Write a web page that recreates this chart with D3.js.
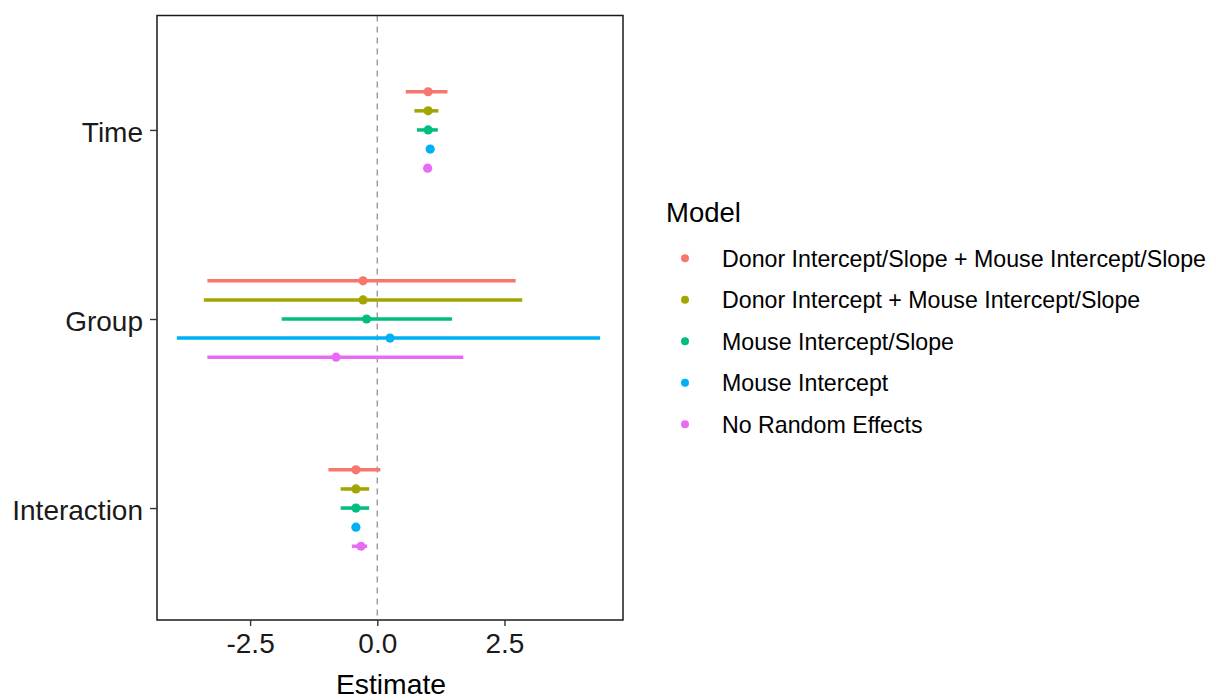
<!DOCTYPE html>
<html>
<head>
<meta charset="utf-8">
<script src="https://cdn.jsdelivr.net/npm/d3@7"></script>
<style>
  html, body { margin: 0; padding: 0; background: #fff; }
  svg { display: block; font-family: "Liberation Sans", Arial, sans-serif; }
</style>
</head>
<body>
<svg id="chart" width="1216" height="700"></svg>
<script>
// Model terms (top to bottom) and the fitted models (dodged within each term)
const terms = ["Time", "Group", "Interaction"];
const models = [
  "Donor Intercept/Slope + Mouse Intercept/Slope",
  "Donor Intercept + Mouse Intercept/Slope",
  "Mouse Intercept/Slope",
  "Mouse Intercept",
  "No Random Effects"
];
const modelColors = ["#F8766D", "#A3A500", "#00BF7D", "#00B0F6", "#E76BF3"];

// Point estimates per model, ordered as in `terms`
const estimate = [
  [1.00, -0.28, -0.42],
  [1.00, -0.28, -0.42],
  [1.00, -0.21, -0.42],
  [1.04,  0.25, -0.42],
  [0.99, -0.81, -0.32]
];
// Lower and upper interval bounds per model
const lower = [
  [0.56, -3.34, -0.96],
  [0.73, -3.41, -0.72],
  [0.78, -1.88, -0.72],
  [1.01, -3.94, -0.44],
  [0.93, -3.34, -0.50]
];
const upper = [
  [1.38, 2.72,  0.06],
  [1.20, 2.85, -0.16],
  [1.19, 1.47, -0.16],
  [1.07, 4.38, -0.40],
  [1.05, 1.69, -0.20]
];
const xTicks = [-2.5, 0, 2.5];
const xTickLabels = ["-2.5", "0.0", "2.5"];

const rows = [];
models.forEach((m, i) => {
  terms.forEach((t, j) => {
    rows.push({ model: m, term: t, est: estimate[i][j], lo: lower[i][j], hi: upper[i][j] });
  });
});

const svg = d3.select("#chart");
const panel = { left: 157, right: 623, top: 15.5, bottom: 620 };

const x = d3.scaleLinear().domain([-4.33, 4.83]).range([panel.left, panel.right]);
const y = d3.scalePoint().domain(terms).range([panel.top + 1, panel.bottom + 1.5]).padding(0.6);
const dodge = d3.scalePoint().domain(models).range([-0.202 * y.step(), 0.202 * y.step()]);
const color = d3.scaleOrdinal().domain(models).range(modelColors);

// Reference line at zero
svg.append("line")
  .attr("x1", x(0)).attr("x2", x(0))
  .attr("y1", panel.top).attr("y2", panel.bottom)
  .attr("stroke", "#9a9a9a").attr("stroke-width", 1.4)
  .attr("stroke-dasharray", "6,5");

// Interval bars and estimates
const g = svg.append("g");
g.selectAll("line.ci").data(rows).join("line")
  .attr("class", "ci")
  .attr("x1", d => x(d.lo)).attr("x2", d => x(d.hi))
  .attr("y1", d => y(d.term) + dodge(d.model))
  .attr("y2", d => y(d.term) + dodge(d.model))
  .attr("stroke", d => color(d.model))
  .attr("stroke-width", 3.5);
g.selectAll("circle.est").data(rows).join("circle")
  .attr("class", "est")
  .attr("cx", d => x(d.est))
  .attr("cy", d => y(d.term) + dodge(d.model))
  .attr("r", 4.6)
  .attr("fill", d => color(d.model));

// Panel border
svg.append("rect")
  .attr("x", panel.left).attr("y", panel.top)
  .attr("width", panel.right - panel.left).attr("height", panel.bottom - panel.top)
  .attr("fill", "none").attr("stroke", "#1a1a1a").attr("stroke-width", 1.5);

// X axis
const xAxis = svg.append("g")
  .attr("transform", `translate(0,${panel.bottom})`)
  .call(d3.axisBottom(x).tickValues(xTicks)
    .tickFormat((d, i) => xTickLabels[i]).tickSize(6).tickPadding(7));
xAxis.select(".domain").remove();
xAxis.selectAll(".tick line").attr("stroke", "#333").attr("stroke-width", 1.4);
xAxis.selectAll(".tick text")
  .attr("font-size", 28).attr("fill", "#1a1a1a")
  .attr("font-family", "Liberation Sans, Arial, sans-serif");

// Y axis
const yAxis = svg.append("g")
  .attr("transform", `translate(${panel.left},0)`)
  .call(d3.axisLeft(y).tickSize(7).tickPadding(7));
yAxis.select(".domain").remove();
yAxis.selectAll(".tick line").attr("stroke", "#333").attr("stroke-width", 1.4);
yAxis.selectAll(".tick text")
  .attr("font-size", 28).attr("fill", "#1a1a1a")
  .attr("dy", "0.42em")
  .attr("font-family", "Liberation Sans, Arial, sans-serif");

// Axis title
svg.append("text")
  .attr("x", (panel.left + panel.right) / 2 + 1).attr("y", 694)
  .attr("text-anchor", "middle")
  .attr("font-size", 28.3).attr("fill", "#000")
  .text("Estimate");

// Legend
const legend = svg.append("g").attr("transform", "translate(666,0)");
legend.append("text")
  .attr("x", 0).attr("y", 221.5)
  .attr("font-size", 27.5).attr("fill", "#000")
  .text("Model");
const keyY = d3.scalePoint().domain(models).range([258.3, 424.3]);
const items = legend.selectAll("g.item").data(models).join("g")
  .attr("class", "item")
  .attr("transform", d => `translate(0,${keyY(d)})`);
items.append("circle").attr("cx", 19).attr("cy", 0).attr("r", 4).attr("fill", d => color(d));
items.append("text")
  .attr("x", 56).attr("y", 8.5)
  .attr("font-size", 23.2).attr("fill", "#000")
  .text(d => d);
</script>
</body>
</html>
